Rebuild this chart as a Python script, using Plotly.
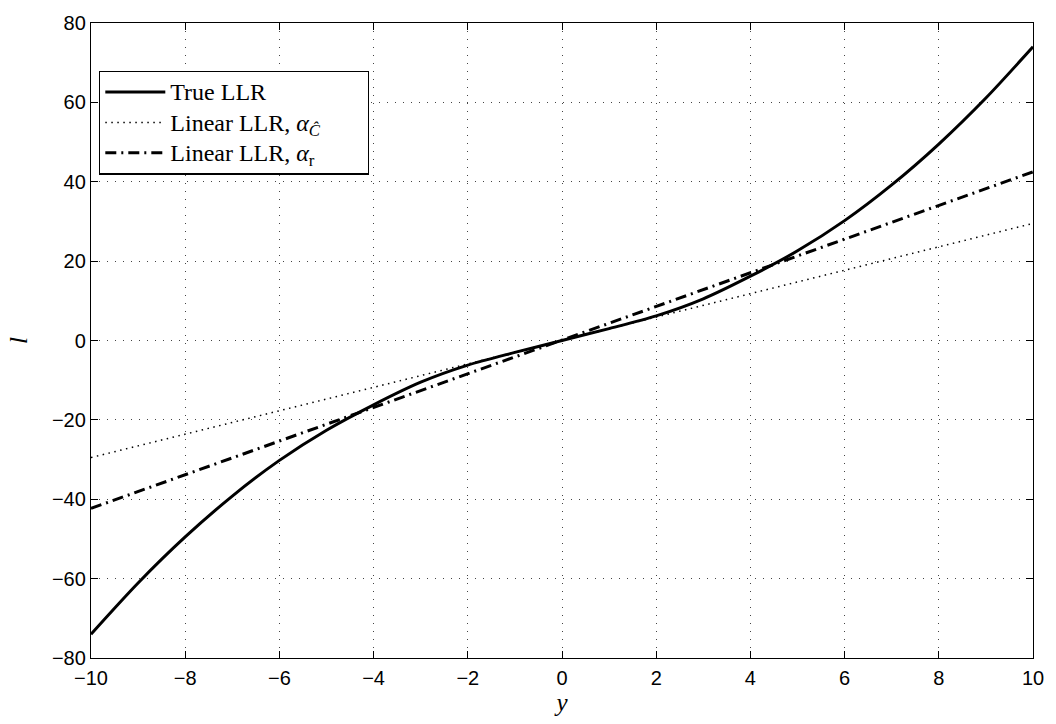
import plotly.graph_objects as go

# Sample points of the received signal y
y_vals = [-10, -9, -8, -7, -6, -5, -4, -3, -2, -1, 0, 1, 2, 3, 4, 5, 6, 7, 8, 9, 10]
# True log-likelihood ratio
true_llr = [-74.0, -61.1, -49.5, -39.2, -30.2, -22.6, -16.2, -10.5, -6.2, -3.0, 0.0,
            3.0, 6.2, 10.5, 16.2, 22.6, 30.2, 39.2, 49.5, 61.1, 74.0]

# Linear approximations (straight lines through the origin)
lin_y = [-10, 10]
lin_c_hat = [-29.5, 29.5]
lin_r = [-42.3, 42.5]

x_ticks = [-10, -8, -6, -4, -2, 0, 2, 4, 6, 8, 10]
y_ticks = [-80, -60, -40, -20, 0, 20, 40, 60, 80]

legend_names = [
    "True LLR",
    "Linear LLR, <i>α</i><sub><i>Ĉ</i></sub>",
    "Linear LLR, <i>α</i><sub>r</sub>",
]


def legend_label(text, pad=0):
    # larger legend text than the row spacing font, with optional right padding
    return '<span style="font-size:24px">' + text + "&nbsp;" * pad + "</span>"


fig = go.Figure()
fig.add_trace(go.Scatter(
    x=y_vals, y=true_llr, mode="lines", name=legend_label(legend_names[0]),
    line=dict(color="black", width=3, shape="spline", smoothing=0.8),
))
fig.add_trace(go.Scatter(
    x=lin_y, y=lin_c_hat, mode="lines", name=legend_label(legend_names[1], pad=7),
    line=dict(color="black", width=1.5, dash="1.5px,4.5px"),
))
fig.add_trace(go.Scatter(
    x=lin_y, y=lin_r, mode="lines", name=legend_label(legend_names[2]),
    line=dict(color="black", width=3, dash="11px,5px,2px,5px"),
))

axis_common = dict(
    showline=True, linecolor="black", linewidth=1.3, mirror="ticks",
    ticks="inside", ticklen=7, tickcolor="black", tickwidth=1,
    showgrid=True, gridcolor="#444", gridwidth=1, griddash="1px,7px",
    zeroline=False,
    tickfont=dict(family="Liberation Sans, Arial, sans-serif", size=20, color="black"),
)

fig.update_xaxes(
    range=[-10, 10], tickvals=x_ticks, ticklabelstandoff=2,
    title=dict(text="<i>y</i>", font=dict(family="Liberation Serif, serif", size=25, color="black"),
               standoff=5),
    **axis_common,
)
fig.update_yaxes(
    range=[-80, 80], tickvals=y_ticks,
    title=dict(text="<i>l</i>", font=dict(family="Liberation Serif, serif", size=25, color="black"),
               standoff=17),
    **axis_common,
)

fig.update_layout(
    width=1056, height=724,
    margin=dict(l=91, r=21, t=12, b=65),
    plot_bgcolor="white", paper_bgcolor="white",
    showlegend=True,
    legend=dict(
        x=0.0085, y=0.925, xanchor="left", yanchor="top",
        bgcolor="white", bordercolor="black", borderwidth=1.3,
        font=dict(family="Liberation Serif, serif", size=21, color="black"),
        itemwidth=60, tracegroupgap=0,
    ),
)

fig.write_html("out.html")
